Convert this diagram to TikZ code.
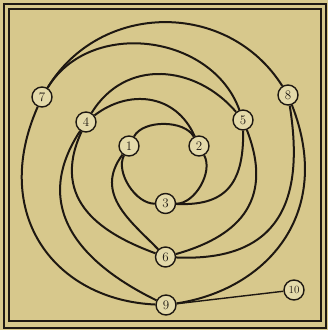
\documentclass[tikz,border=0pt]{standalone}
\definecolor{paper}{RGB}{215,200,140}
\definecolor{disc}{RGB}{228,218,170}
\definecolor{ink}{RGB}{30,24,18}
\tikzset{
  num/.style={circle, draw=ink, line width=1.4pt, fill=disc, minimum size=20pt, inner sep=0pt, font=\fontsize{13}{13}\selectfont, text=ink},
  wire/.style={draw=ink, line width=2pt},
}
\begin{document}
\begin{tikzpicture}[x=1pt,y=-1pt]
\fill[paper] (0,0) rectangle (328,330);
\useasboundingbox (0,0) rectangle (328,330);
\draw[ink, line width=2pt] (4,3.5) rectangle (326,327.5);
\draw[ink, line width=1.5pt] (9,9) rectangle (321,321);
\node[num] (n1) at (129,146) {1};
\node[num] (n2) at (199,146) {2};
\node[num] (n3) at (165.5,203.5) {3};
\node[num] (n4) at (86,122) {4};
\node[num] (n5) at (243,120) {5};
\node[num] (n6) at (165.5,257) {6};
\node[num] (n7) at (42,97) {7};
\node[num] (n8) at (288,95) {8};
\node[num] (n9) at (166,305) {9};
\node[num, font=\fontsize{11}{11}\selectfont] (n10) at (294,290) {10};
\draw[wire] (n7) .. controls (100,1) and (228,0) .. (n8);
\draw[wire] (n7) .. controls (90,18) and (212,34) .. (n5);
\draw[wire] (n4) .. controls (125.5,57.7) and (195.5,64.7) .. (n5);
\draw[wire] (n4) .. controls (127.8,89.5) and (175.3,92.6) .. (n2);
\draw[wire] (n1) .. controls (143,119.5) and (184.5,119.8) .. (n2);
\draw[wire] (n2) .. controls (213.4,172) and (194.7,204) .. (n3);
\draw[wire] (n3) .. controls (135.6,204) and (115.2,172) .. (n1);
\draw[wire] (n3) .. controls (223,206) and (244,187) .. (n5);
\draw[wire] (n5) .. controls (276,205) and (233,238) .. (n6);
\draw[wire] (n8) .. controls (305,200) and (280,262) .. (n6);
\draw[wire] (n8) .. controls (335,215) and (265,290) .. (n9);
\draw[wire] (n7) .. controls (-10,215) and (55,300) .. (n9);
\draw[wire] (n4) .. controls (25,215) and (94.4,270) .. (n9);
\draw[wire] (n4) .. controls (49,202) and (104.9,234.7) .. (n6);
\draw[wire] (n1) .. controls (93,194) and (132,222) .. (n6);
\draw[wire, line width=1.4pt] (n10) -- (n9);
\end{tikzpicture}
\end{document}
